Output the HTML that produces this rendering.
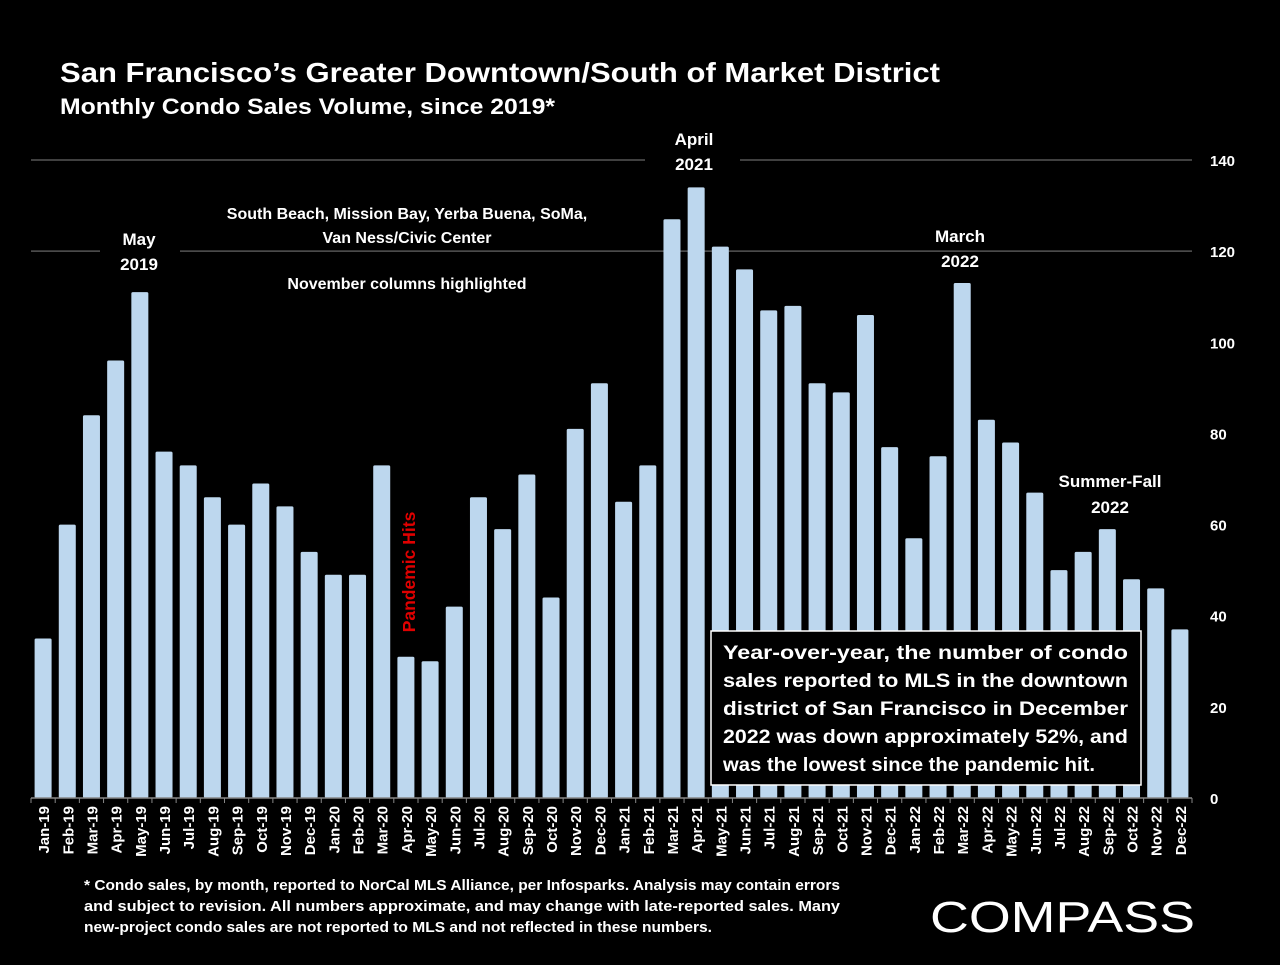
<!DOCTYPE html>
<html><head><meta charset="utf-8"><style>
body{margin:0;background:#000;width:1280px;height:960px;overflow:hidden;font-family:"Liberation Sans",sans-serif;color:#fff}
svg text{font-family:"Liberation Sans",sans-serif;font-weight:bold}
</style></head><body>
<svg id="c" width="1280" height="960">
<text x="60" y="82" font-size="28" fill="#fff" textLength="880" lengthAdjust="spacingAndGlyphs">San Francisco’s Greater Downtown/South of Market District</text>
<text x="60" y="114" font-size="22" fill="#fff" textLength="495" lengthAdjust="spacingAndGlyphs">Monthly Condo Sales Volume, since 2019*</text>
<g id="grid"></g><g id="bars"></g><g id="axis"></g>
<g font-size="17" fill="#fff" text-anchor="middle">
<rect x="100" y="225" width="80" height="52" fill="#000"/>
<text x="139" y="245">May</text><text x="139" y="270">2019</text>
<rect x="205" y="200" width="405" height="50" fill="#000"/>
<text x="407" y="219" font-size="16">South Beach, Mission Bay, Yerba Buena, SoMa,</text>
<text x="407" y="243" font-size="16">Van Ness/Civic Center</text>
<text x="407" y="289" font-size="16">November columns highlighted</text>
<rect x="645" y="125" width="95" height="50" fill="#000"/>
<text x="694" y="145">April</text><text x="694" y="170">2021</text>
<text x="960" y="242">March</text><text x="960" y="267">2022</text>
<text x="1110" y="487">Summer-Fall</text><text x="1110" y="513">2022</text>
<text transform="translate(415,572) rotate(-90)" fill="#e00000" font-size="17.5">Pandemic Hits</text>
</g>
<g>
<rect x="711" y="631" width="430" height="154" fill="#000" stroke="#fff" stroke-width="1.5"/>
<g font-size="19" fill="#fff">
<text x="723" y="659" textLength="405" lengthAdjust="spacingAndGlyphs">Year-over-year, the number of condo</text>
<text x="723" y="687" textLength="405" lengthAdjust="spacingAndGlyphs">sales reported to MLS in the downtown</text>
<text x="723" y="715" textLength="405" lengthAdjust="spacingAndGlyphs">district of San Francisco in December</text>
<text x="723" y="743" textLength="405" lengthAdjust="spacingAndGlyphs">2022 was down approximately 52%, and</text>
<text x="723" y="771" textLength="372" lengthAdjust="spacingAndGlyphs">was the lowest since the pandemic hit.</text>
</g></g>
<g font-size="14.5" fill="#fff">
<text x="84" y="890" textLength="756" lengthAdjust="spacingAndGlyphs">* Condo sales, by month, reported to NorCal MLS Alliance, per Infosparks. Analysis may contain errors</text>
<text x="84" y="911" textLength="756" lengthAdjust="spacingAndGlyphs">and subject to revision. All numbers approximate, and may change with late-reported sales. Many</text>
<text x="84" y="932" textLength="628" lengthAdjust="spacingAndGlyphs">new-project condo sales are not reported to MLS and not reflected in these numbers.</text>
</g>
<text x="930" y="932" font-size="44" fill="#fff" textLength="265" lengthAdjust="spacingAndGlyphs" style="font-weight:normal">COMPASS</text>
</svg>
<script>
const categories=["Jan-19","Feb-19","Mar-19","Apr-19","May-19","Jun-19","Jul-19","Aug-19","Sep-19","Oct-19","Nov-19","Dec-19","Jan-20","Feb-20","Mar-20","Apr-20","May-20","Jun-20","Jul-20","Aug-20","Sep-20","Oct-20","Nov-20","Dec-20","Jan-21","Feb-21","Mar-21","Apr-21","May-21","Jun-21","Jul-21","Aug-21","Sep-21","Oct-21","Nov-21","Dec-21","Jan-22","Feb-22","Mar-22","Apr-22","May-22","Jun-22","Jul-22","Aug-22","Sep-22","Oct-22","Nov-22","Dec-22"];
const sales=[35,60,84,96,111,76,73,66,60,69,64,54,49,49,73,31,30,42,66,59,71,44,81,91,65,73,127,134,121,116,107,108,91,89,106,77,57,75,113,83,78,67,50,54,59,48,46,37];
const yTicks=[0,20,40,60,80,100,120,140];
const gridTicks=[120,140];
const NS="http://www.w3.org/2000/svg";
const x0=31,x1=1192,y0=798,yTop=160,yMax=140;
const step=(x1-x0)/categories.length;
const xs=i=>x0+step*(i+0.5);
const ys=v=>y0-(y0-yTop)*v/yMax;
function mk(t,a,p){const e=document.createElementNS(NS,t);for(const k in a)e.setAttribute(k,a[k]);p.appendChild(e);return e;}
const grid=document.getElementById('grid'),bars=document.getElementById('bars'),axis=document.getElementById('axis');
gridTicks.forEach(v=>{const l=mk('line',{x1:x0,x2:x1,y1:ys(v),y2:ys(v),stroke:'#555','stroke-width':1.5},grid);

});
sales.forEach((v,i)=>{const r=mk('rect',{x:xs(i)-8.5,y:ys(v),width:17,height:y0-ys(v),fill:'#bdd7ee',rx:1.5},bars);

});
mk('line',{x1:x0,x2:x1,y1:y0,y2:y0,stroke:'#888','stroke-width':1.5},axis);
for(let i=0;i<=categories.length;i++)mk('line',{x1:x0+step*i,x2:x0+step*i,y1:y0,y2:y0+5,stroke:'#888'},axis);
categories.forEach((c,i)=>{const t=mk('text',{transform:`translate(${xs(i)+6},${y0+8}) rotate(-90)`,'text-anchor':'end',fill:'#fff','font-size':15},axis);t.textContent=c;

});
yTicks.forEach(v=>{const t=mk('text',{x:1210,y:ys(v)+6,fill:'#fff','font-size':15},axis);t.textContent=v;

});
</script>
</body></html>
